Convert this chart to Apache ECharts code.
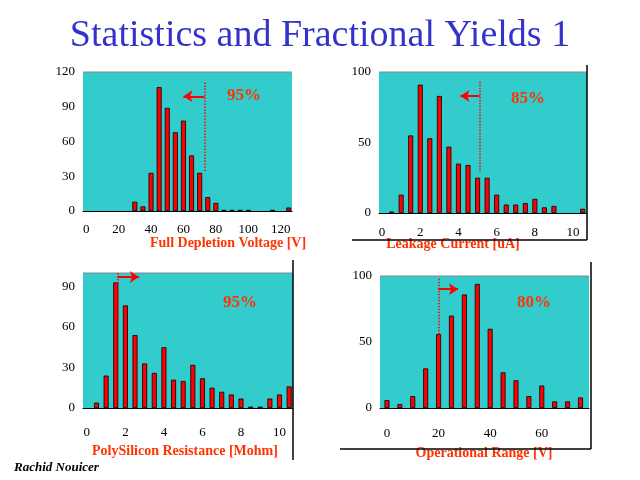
<!DOCTYPE html>
<html><head><meta charset="utf-8">
<script src="https://cdn.jsdelivr.net/npm/echarts@6/dist/echarts.min.js"></script>
<style>html,body{margin:0;padding:0;background:#fff}#c{width:640px;height:480px}</style>
</head><body><div id="c"></div>
<script>
const depletionX = [30,35,40,45,50,55,60,65,70,75,80,85,90,95,100,115,125];
const depletionY = [8,4,33,107,89,68,78,48,33,12,7,1,1,1,1,1,3];
const leakageX = [0.5,1,1.5,2,2.5,3,3.5,4,4.5,5,5.5,6,6.5,7,7.5,8,8.5,9,10.5];
const leakageY = [1,13,55,91,53,83,47,35,34,25,25,13,6,6,7,10,4,5,3];
const polyX = [0.5,1,1.5,2,2.5,3,3.5,4,4.5,5,5.5,6,6.5,7,7.5,8,8.5,9,9.5,10,10.5];
const polyY = [4,24,93,76,54,33,26,45,21,20,32,22,15,12,10,7,1,1,7,10,16];
const opX = [0,5,10,15,20,25,30,35,40,45,50,55,60,65,70,75];
const opY = [6,3,9,30,56,70,86,94,60,27,21,9,17,5,5,8];
const depletionTicks = [0,20,40,60,80,100,120];
const leakageTicks = [0,2,4,6,8,10];
const polyTicks = [0,2,4,6,8,10];
const opTicks = [0,20,40,60];
const xNames = ['Full Depletion Voltage [V]','Leakage Current [uA]','PolySilicon Resistance [Mohm]','Operational Range [V]'];
const yields = ['95%','85%','95%','80%'];

const panels = [
 {grid:{left:83,top:72,width:209,height:139}, x:[-2,127], ticks:depletionTicks, y:[0,120,30], xs:depletionX, ys:depletionY, lm:12,
  cut:[73,111,34], arrow:[[73,99],[60,99]], txt:[244,96], name:[228,243]},
 {grid:{left:379,top:72,width:208,height:141}, x:[-0.16,10.73], ticks:leakageTicks, y:[0,100,50], xs:leakageX, ys:leakageY, lm:13,
  cut:[5.1,93,29], arrow:[[5.1,83],[4.1,83]], txt:[528,99], name:[453,244]},
 {grid:{left:83,top:273,width:210,height:135}, x:[-0.2,10.7], ticks:polyTicks, y:[0,100,30], xs:polyX, ys:polyY, lm:18,
  cut:[1.6,100,64], arrow:[[1.6,97],[2.7,97]], txt:[240,303], name:[185,451]},
 {grid:{left:380,top:276,width:209,height:132}, x:[-2.7,78.3], ticks:opTicks, y:[0,100,50], xs:opX, ys:opY, lm:19,
  cut:[20,98,55], arrow:[[20,90],[27.5,90]], txt:[534,303], name:[484,453]}
];
const serif = '"Liberation Serif","DejaVu Serif",serif';
const grids=[], xAxes=[], yAxes=[], series=[], graphic=[];
panels.forEach((p,i)=>{
  grids.push(Object.assign({show:true,backgroundColor:'#33CCCC',borderWidth:0},p.grid));
  xAxes.push({type:'value',gridIndex:i,min:p.x[0],max:p.x[1],
    axisLabel:{margin:p.lm,color:'#000',fontFamily:serif,fontSize:13,showMinLabel:true,showMaxLabel:true,customValues:p.ticks},
    axisTick:{show:false},splitLine:{show:false},axisLine:{lineStyle:{color:'#000',width:1}}});
  yAxes.push({type:'value',gridIndex:i,min:p.y[0],max:p.y[1],interval:p.y[2],
    axisLabel:{color:'#000',fontFamily:serif,fontSize:13,margin:8,showMaxLabel:p.y[1]%p.y[2]===0},
    axisTick:{show:false},splitLine:{show:false},axisLine:{show:false}});
  series.push({type:'bar',xAxisIndex:i,yAxisIndex:i,barWidth:5,
    itemStyle:{color:'#FF0000',borderColor:'#000',borderWidth:0.8},
    data:p.xs.map((v,k)=>[v,p.ys[k]]),
    markLine:{silent:true,symbol:['none','none'],animation:false,label:{show:false},
      data:[
        [{coord:[p.cut[0],p.cut[1]],lineStyle:{color:'#FF0000',type:'dotted',width:1.5}},{coord:[p.cut[0],p.cut[2]]}],
        [{coord:p.arrow[0],symbol:'none',lineStyle:{color:'#FF0000',type:'solid',width:2}},{coord:p.arrow[1],symbol:'arrow',symbolSize:9}]
      ]}});
  const g=p.grid;
  graphic.push({type:'line',shape:{x1:g.left,y1:g.top,x2:g.left+g.width,y2:g.top},style:{stroke:'#888',lineWidth:1}});
  graphic.push({type:'text',x:p.txt[0],y:p.txt[1],style:{text:yields[i],fill:'#FF3300',font:'bold 17px '+serif,align:'center',verticalAlign:'middle'}});
  graphic.push({type:'text',x:p.name[0],y:p.name[1],style:{text:xNames[i],fill:'#FF3300',font:'bold 14px '+serif,align:'center',verticalAlign:'middle'}});
});
graphic.push({type:'line',shape:{x1:587,y1:65,x2:587,y2:240},style:{stroke:'#000',lineWidth:1.5}});
graphic.push({type:'line',shape:{x1:352,y1:240,x2:587,y2:240},style:{stroke:'#000',lineWidth:1.5}});
graphic.push({type:'line',shape:{x1:293,y1:260,x2:293,y2:460},style:{stroke:'#000',lineWidth:1.5}});
graphic.push({type:'line',shape:{x1:591,y1:262,x2:591,y2:449},style:{stroke:'#000',lineWidth:1.5}});
graphic.push({type:'line',shape:{x1:340,y1:449,x2:591,y2:449},style:{stroke:'#000',lineWidth:1.5}});
graphic.push({type:'text',x:320,y:36,style:{text:'Statistics and Fractional Yields 1',fill:'#3333CC',font:'38px '+serif,align:'center',verticalAlign:'middle'}});
graphic.push({type:'text',x:14,y:468,style:{text:'Rachid Nouicer',fill:'#000',font:'italic bold 13px '+serif,align:'left',verticalAlign:'middle'}});

const chart = echarts.init(document.getElementById('c'));
chart.setOption({animation:false,grid:grids,xAxis:xAxes,yAxis:yAxes,series:series,graphic:graphic});
</script></body></html>
